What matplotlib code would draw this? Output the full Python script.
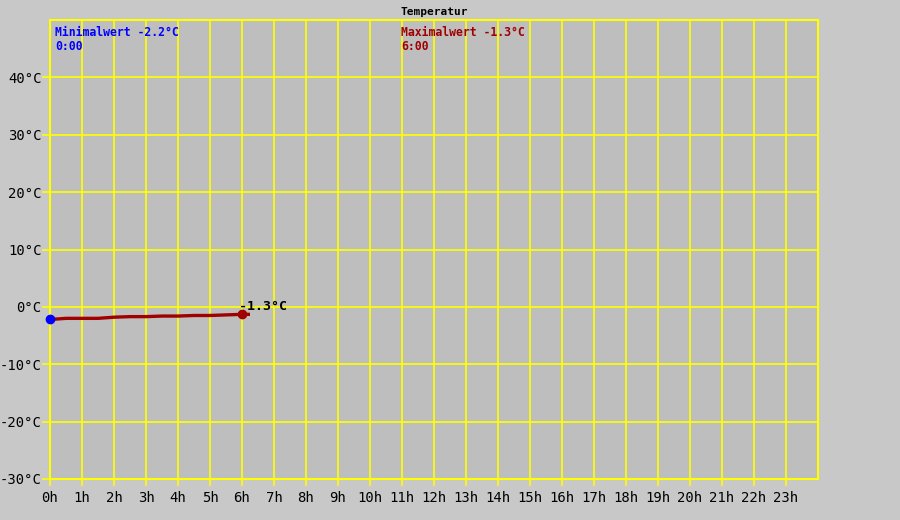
import matplotlib
matplotlib.use("Agg")
import matplotlib.pyplot as plt

plt.rcParams["axes.unicode_minus"] = False

# data (hours since midnight, temperature in deg C)
hours = [0, 0.5, 1.0, 1.5, 2.0, 2.5, 3.0, 3.5, 4.0, 4.5, 5.0, 5.5, 6.0, 6.25]
temps = [-2.2, -2.0, -2.0, -2.0, -1.8, -1.7, -1.7, -1.6, -1.6, -1.5, -1.5, -1.4, -1.3, -1.3]
min_t, min_val = 0, -2.2
max_t, max_val = 6, -1.3
x_ticks = list(range(24))
x_labels = [f"{h}h" for h in x_ticks]
y_ticks = [-30, -20, -10, 0, 10, 20, 30, 40]
y_labels = [f"{v}°C" for v in y_ticks]

BG = "#c8c8c8"
PLOT_BG = "#bebebe"
YEL = "#ffff00"
RED = "#a00000"
MONO = "DejaVu Sans Mono"

fig = plt.figure(figsize=(9, 5.2), dpi=100, facecolor=BG)
ax = fig.add_axes([50/900, 41/520, 768/900, 459/520])
ax.set_facecolor(PLOT_BG)
ax.set_xlim(0, 24)
ax.set_ylim(-30, 50)

for x in range(25):
    ax.axvline(x, color=YEL, lw=1.2, zorder=1)
for y in y_ticks + [50]:
    ax.axhline(y, color=YEL, lw=1.2, zorder=1)
for s in ax.spines.values():
    s.set_color(YEL); s.set_linewidth(1.5)

ax.set_xticks(x_ticks)
ax.set_xticklabels(x_labels, family=MONO, fontsize=10)
ax.set_yticks(y_ticks)
ax.set_yticklabels(y_labels, family=MONO, fontsize=10)
ax.tick_params(axis="x", length=5, color=YEL, width=1.2, pad=4)
ax.tick_params(axis="y", length=6, color=YEL, width=1.2, pad=0)

ax.plot(hours, temps, color=RED, lw=2.4, zorder=3, solid_capstyle="butt")
ax.plot([min_t], [min_val], "o", color="#0000ff", ms=6, zorder=4, clip_on=False)
ax.plot([max_t], [max_val], "o", color=RED, ms=6, zorder=4)
ax.text(max_t - 0.1, max_val + 0.3, f"{max_val}°C", family=MONO, fontsize=9.5,
        fontweight="bold", ha="left", va="bottom", zorder=5)

ax.text(0.15, 49.0, f"Minimalwert {min_val}°C\n{min_t}:00", color="#0000ff",
        family=MONO, fontweight="bold", fontsize=8.3, va="top", ha="left", linespacing=1.15)
ax.text(10.97, 49.0, f"Maximalwert {max_val}°C\n{max_t}:00", color=RED,
        family=MONO, fontweight="bold", fontsize=8.3, va="top", ha="left", linespacing=1.15)

fig.text(434/900, 1 - 12/520, "Temperatur", family=MONO, fontweight="bold",
         fontsize=8, ha="center", va="center")

fig.savefig("out.png", dpi=100, facecolor=BG)
